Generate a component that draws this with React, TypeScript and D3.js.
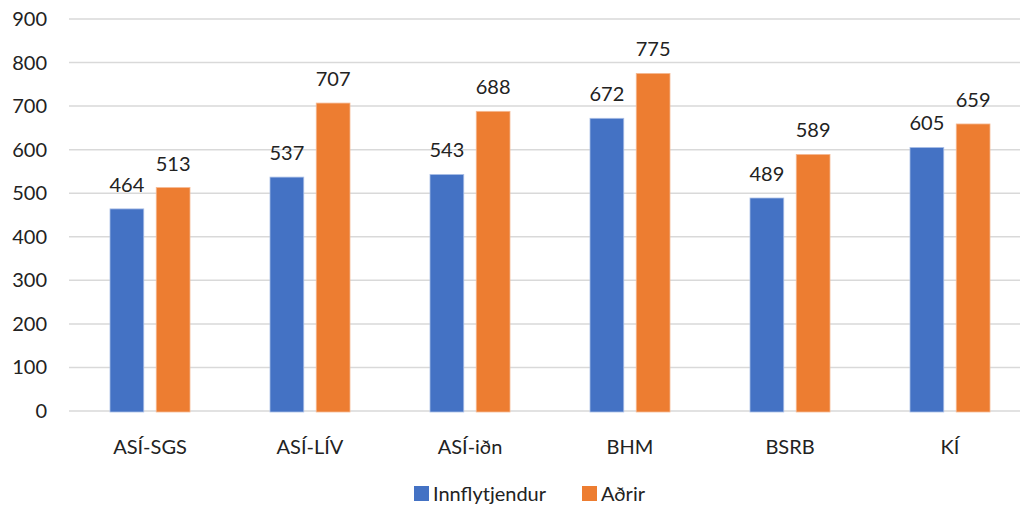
import React from "react";
import * as d3 from "d3";

const categories = ["ASÍ-SGS", "ASÍ-LÍV", "ASÍ-iðn", "BHM", "BSRB", "KÍ"];
const innflytjendur = [464, 537, 543, 672, 489, 605];
const adrir = [513, 707, 688, 775, 589, 659];
const seriesNames = ["Innflytjendur", "Aðrir"];
const yTicks = [0, 100, 200, 300, 400, 500, 600, 700, 800, 900];

const W = 1020;
const H = 509;
const colors = ["#4472C4", "#ED7D31"];
const font = "Lato, 'Open Sans', sans-serif";

export default function App() {
  const x = d3.scaleBand<string>().domain(categories).range([70, 1030]).padding(0);
  const y = d3.scaleLinear().domain([0, 900]).range([411, 19]);
  const inner = d3.scaleBand<string>().domain(seriesNames).range([40, 120]).paddingInner(0.27);
  const series = [innflytjendur, adrir];

  return (
    <svg width={W} height={H} style={{ position: "absolute", left: 0, top: 0, background: "#fff" }}>
      {yTicks.map((t) => (
        <g key={t}>
          <line x1={69} x2={W} y1={y(t)} y2={y(t)} stroke="#D9D9D9" strokeWidth={1.5} />
          <text x={47} y={y(t)} dy="0.35em" textAnchor="end" fontFamily={font} fontSize={20} fill="#222">
            {t}
          </text>
        </g>
      ))}
      {categories.map((c, i) => (
        <g key={c}>
          {series.map((vals, s) => {
            const bx = (x(c) as number) + (inner(seriesNames[s]) as number);
            const bw = inner.bandwidth();
            return (
              <g key={s}>
                <rect
                  x={bx}
                  y={y(vals[i])}
                  width={bw}
                  height={y(0) - y(vals[i]) + 1}
                  fill={colors[s]}
                  stroke={s === 0 ? "#A9BEE6" : "#F5B993"}
                  strokeWidth={0.8}
                />
                <text
                  x={bx + bw / 2}
                  y={y(vals[i]) - 17}
                  textAnchor="middle"
                  fontFamily={font}
                  fontSize={20}
                  fill="#222"
                >
                  {vals[i]}
                </text>
              </g>
            );
          })}
          <text
            x={(x(c) as number) + x.bandwidth() / 2}
            y={447}
            dy="0.35em"
            textAnchor="middle"
            fontFamily={font}
            fontSize={20}
            fill="#222"
          >
            {c}
          </text>
        </g>
      ))}
      <g>
        <rect x={414} y={486} width={15} height={15} fill={colors[0]} />
        <text x={433} y={494} dy="0.35em" fontFamily={font} fontSize={20} fill="#222">
          {seriesNames[0]}
        </text>
        <rect x={582} y={486} width={15} height={15} fill={colors[1]} />
        <text x={601} y={494} dy="0.35em" fontFamily={font} fontSize={20} fill="#222">
          {seriesNames[1]}
        </text>
      </g>
    </svg>
  );
}
